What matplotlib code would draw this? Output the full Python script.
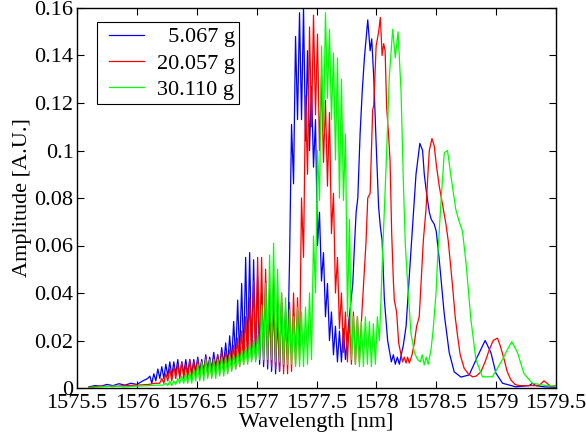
import numpy as np
import matplotlib
matplotlib.use("Agg")
import matplotlib.pyplot as plt
from matplotlib.ticker import FuncFormatter
from matplotlib.legend_handler import HandlerLine2D

plt.rcParams['font.family'] = ['Liberation Serif', 'DejaVu Serif']

labels = ["  5.067 g", "20.057 g", "30.110 g"]
colors = ["#0000ff", "#ff0000", "#00ff00"]
STEP = 1.0 / 60.0  # fringe-sampling grid (nm)

# ---------------- blue : 5.067 g ----------------
blue_head_x = [1575.60, 1575.65, 1575.70, 1575.75, 1575.80, 1575.85, 1575.90, 1575.95, 1576.00, 1576.05, 1576.09]
blue_head_y = [0.0005, 0.001, 0.0008, 0.0015, 0.001, 0.0018, 0.0012, 0.002, 0.0015, 0.003, 0.004]
blue_osc_start = 1576.1083
blue_osc = [
    0.005, 0.002, 0.006, 0.003, 0.008, 0.004, 0.009, 0.004, 0.010, 0.005,
    0.011, 0.005, 0.011, 0.006, 0.012, 0.005, 0.011, 0.006, 0.012, 0.006,
    0.012, 0.006, 0.012, 0.007, 0.013, 0.007, 0.012, 0.007, 0.014, 0.008,
    0.013, 0.008, 0.015, 0.009, 0.014, 0.009, 0.017, 0.010, 0.019, 0.010,
    0.022, 0.011, 0.028, 0.012, 0.037, 0.013, 0.044, 0.013, 0.055, 0.014,
    0.057, 0.013, 0.054, 0.012, 0.047, 0.010, 0.040, 0.009, 0.045, 0.008,
    0.035, 0.007, 0.038, 0.006, 0.030, 0.007, 0.036, 0.009, 0.033, 0.012,
    0.054, 0.111, 0.086, 0.148, 0.113, 0.158, 0.113, 0.160, 0.104, 0.142,
    0.100, 0.127, 0.093, 0.113, 0.060, 0.074, 0.045, 0.057, 0.030, 0.044,
    0.020, 0.032, 0.014, 0.026, 0.011, 0.024, 0.011, 0.025, 0.012,
]
blue_tail_x = [1577.770, 1577.803, 1577.817, 1577.831, 1577.845, 1577.864, 1577.882, 1577.900, 1577.928,
               1577.948, 1577.961, 1577.978, 1577.998, 1578.019, 1578.033, 1578.048, 1578.067, 1578.094,
               1578.108, 1578.125, 1578.142, 1578.158, 1578.175, 1578.192, 1578.208, 1578.225, 1578.248,
               1578.289, 1578.331, 1578.363, 1578.386, 1578.400, 1578.419, 1578.442, 1578.458, 1578.483,
               1578.500, 1578.525, 1578.567, 1578.608, 1578.650, 1578.706, 1578.775, 1578.842, 1578.908,
               1578.956, 1578.998, 1579.053, 1579.164, 1579.275, 1579.303, 1579.333, 1579.400, 1579.492]
blue_tail_y = [0.028, 0.044, 0.060, 0.074, 0.080, 0.107, 0.125, 0.139, 0.155,
               0.142, 0.147, 0.131, 0.103, 0.076, 0.068, 0.062, 0.037, 0.020,
               0.016, 0.011, 0.014, 0.010, 0.013, 0.010, 0.014, 0.018, 0.026,
               0.058, 0.090, 0.103, 0.100, 0.090, 0.082, 0.074, 0.071, 0.069,
               0.066, 0.054, 0.031, 0.015, 0.0068, 0.0046, 0.0055, 0.013, 0.020,
               0.015, 0.0063, 0.002, 0.0005, 0.001, 0.002, 0.001, 0.0005, 0.0003]

# ---------------- red : 20.057 g ----------------
red_head_x = [1575.60, 1575.70, 1575.80, 1575.90, 1576.00, 1576.10, 1576.15, 1576.19]
red_head_y = [0.0003, 0.0008, 0.0006, 0.001, 0.0012, 0.0015, 0.002, 0.002]
red_osc_start = 1576.2083
red_osc = [
    0.004, 0.002, 0.006, 0.003, 0.008, 0.003, 0.009, 0.004, 0.010, 0.004,
    0.011, 0.004, 0.010, 0.004, 0.012, 0.004, 0.011, 0.005, 0.012, 0.004,
    0.011, 0.005, 0.013, 0.005, 0.012, 0.005, 0.013, 0.006, 0.014, 0.006,
    0.015, 0.007, 0.015, 0.007, 0.016, 0.008, 0.018, 0.008, 0.021, 0.009,
    0.024, 0.010, 0.030, 0.011, 0.038, 0.012, 0.045, 0.012, 0.055, 0.012,
    0.055, 0.011, 0.050, 0.010, 0.042, 0.009, 0.046, 0.008, 0.038, 0.007,
    0.040, 0.006, 0.032, 0.006, 0.036, 0.007, 0.040, 0.010, 0.038, 0.012,
    0.080, 0.055, 0.123, 0.090, 0.152, 0.110, 0.157, 0.115, 0.149, 0.100,
    0.131, 0.095, 0.121, 0.085, 0.116, 0.065, 0.082, 0.040, 0.055, 0.025,
    0.040, 0.015, 0.032, 0.011, 0.030, 0.010, 0.032, 0.010, 0.030, 0.011,
    0.028,
]
red_tail_x = [1577.900, 1577.914, 1577.928, 1577.948, 1577.969, 1577.978, 1577.998, 1578.019, 1578.033,
              1578.048, 1578.061, 1578.073, 1578.086, 1578.100, 1578.114, 1578.128, 1578.142, 1578.150,
              1578.169, 1578.186, 1578.206, 1578.219, 1578.233, 1578.248, 1578.261, 1578.275, 1578.298,
              1578.317, 1578.336, 1578.358, 1578.373, 1578.392, 1578.414, 1578.428, 1578.442, 1578.464,
              1578.483, 1578.503, 1578.525, 1578.550, 1578.581, 1578.600, 1578.636, 1578.658, 1578.678,
              1578.700, 1578.733, 1578.767, 1578.803, 1578.833, 1578.873, 1578.908, 1578.942, 1578.975,
              1579.011, 1579.033, 1579.067, 1579.092, 1579.123, 1579.158, 1579.192, 1579.275, 1579.358,
              1579.400, 1579.425, 1579.458, 1579.492]
red_tail_y = [0.050, 0.062, 0.080, 0.082, 0.117, 0.119, 0.144, 0.150, 0.156,
              0.140, 0.145, 0.142, 0.118, 0.108, 0.096, 0.065, 0.045, 0.037,
              0.032, 0.019, 0.014, 0.011, 0.013, 0.0105, 0.013, 0.0105, 0.014,
              0.019, 0.026, 0.030, 0.044, 0.062, 0.075, 0.088, 0.100, 0.105,
              0.102, 0.093, 0.085, 0.078, 0.069, 0.062, 0.043, 0.030, 0.022,
              0.014, 0.0083, 0.006, 0.0047, 0.005, 0.0068, 0.011, 0.016, 0.020,
              0.021, 0.018, 0.012, 0.007, 0.0034, 0.0015, 0.001, 0.001, 0.001,
              0.003, 0.002, 0.0005, 0.001]

# ---------------- green : 30.110 g ----------------
green_head_x = [1575.60, 1575.70, 1575.80, 1575.90, 1576.00, 1576.10, 1576.17, 1576.22]
green_head_y = [0.0002, 0.0005, 0.0008, 0.0005, 0.0008, 0.001, 0.0012, 0.0012]
green_osc_start = 1576.2417
green_osc = [
    0.002, 0.001, 0.003, 0.001, 0.003, 0.0015, 0.004, 0.002, 0.005, 0.002,
    0.006, 0.002, 0.007, 0.002, 0.008, 0.003, 0.010, 0.003, 0.011, 0.003,
    0.012, 0.004, 0.012, 0.004, 0.012, 0.004, 0.012, 0.005, 0.013, 0.005,
    0.013, 0.006, 0.014, 0.007, 0.014, 0.008, 0.015, 0.009, 0.016, 0.010,
    0.017, 0.010, 0.019, 0.011, 0.020, 0.011, 0.022, 0.012, 0.035, 0.012,
    0.044, 0.012, 0.056, 0.012, 0.061, 0.011, 0.050, 0.011, 0.040, 0.010,
    0.038, 0.010, 0.033, 0.010, 0.030, 0.009, 0.034, 0.009, 0.032, 0.009,
    0.034, 0.010, 0.040, 0.012, 0.064, 0.040, 0.100, 0.079, 0.144, 0.107,
    0.158, 0.122, 0.151, 0.113, 0.141, 0.096, 0.139, 0.080, 0.130, 0.079,
    0.107, 0.030, 0.071, 0.012, 0.030, 0.010, 0.030, 0.009, 0.028, 0.009,
    0.030, 0.010, 0.028, 0.009, 0.027, 0.010, 0.030,
]
green_tail_x = [1578.025, 1578.039, 1578.053, 1578.081, 1578.108, 1578.136, 1578.158, 1578.181, 1578.206,
                1578.228, 1578.242, 1578.261, 1578.289, 1578.317, 1578.344, 1578.367, 1578.383, 1578.400,
                1578.417, 1578.433, 1578.456, 1578.475, 1578.498, 1578.511, 1578.539, 1578.567, 1578.594,
                1578.623, 1578.664, 1578.692, 1578.719, 1578.748, 1578.789, 1578.831, 1578.886, 1578.969,
                1579.053, 1579.092, 1579.131, 1579.178, 1579.233, 1579.303, 1579.414, 1579.492]
green_tail_y = [0.020, 0.038, 0.058, 0.093, 0.131, 0.151, 0.139, 0.150, 0.125,
                0.082, 0.060, 0.044, 0.023, 0.015, 0.012, 0.011, 0.014, 0.0097,
                0.013, 0.010, 0.016, 0.025, 0.040, 0.054, 0.078, 0.099, 0.100,
                0.089, 0.075, 0.070, 0.066, 0.053, 0.029, 0.012, 0.0047, 0.0047,
                0.012, 0.016, 0.0195, 0.015, 0.006, 0.002, 0.001, 0.0008]

x_ticks = [1575.5, 1576, 1576.5, 1577, 1577.5, 1578, 1578.5, 1579, 1579.5]
y_ticks = [0, 0.02, 0.04, 0.06, 0.08, 0.1, 0.12, 0.14, 0.16]


def build(head_x, head_y, osc_start, osc, tail_x, tail_y):
    osc_x = osc_start + STEP * np.arange(len(osc))
    x = np.concatenate([head_x, osc_x, tail_x])
    y = np.concatenate([head_y, osc, tail_y])
    return x, y


class InsetLine(HandlerLine2D):
    """Legend line that starts a little inside its handle box (MATLAB look)."""
    def create_artists(self, legend, orig_handle, xdescent, ydescent, width,
                       height, fontsize, trans):
        s = 0.33 * fontsize
        return super().create_artists(legend, orig_handle, xdescent - s, ydescent,
                                      width - s, height, fontsize, trans)


series = [
    build(blue_head_x, blue_head_y, blue_osc_start, blue_osc, blue_tail_x, blue_tail_y),
    build(red_head_x, red_head_y, red_osc_start, red_osc, red_tail_x, red_tail_y),
    build(green_head_x, green_head_y, green_osc_start, green_osc, green_tail_x, green_tail_y),
]

FS = 16
fig = plt.figure(figsize=(5.86, 4.32), dpi=100)
ax = fig.add_axes([77 / 586, 44 / 432, 479 / 586, 380 / 432])

lines = []
for (x, y), c, lab in zip(series, colors, labels):
    ln, = ax.plot(x, y, color=c, lw=0.9, label=lab)
    lines.append(ln)

ax.set_xlim(1575.5, 1579.5)
ax.set_ylim(0, 0.16)
ax.set_xticks(x_ticks)
ax.set_yticks(y_ticks)
fmt = FuncFormatter(lambda v, p: "%g" % v)
ax.xaxis.set_major_formatter(fmt)
ax.yaxis.set_major_formatter(fmt)
ax.tick_params(direction='in', length=5, width=0.8, top=True, right=True,
               labelsize=FS)
ax.tick_params(axis='x', pad=4.5)
ax.tick_params(axis='y', pad=2.5)
for s in ax.spines.values():
    s.set_linewidth(1.0)

ax.set_xlabel("Wavelength [nm]", fontsize=FS, labelpad=0)
ax.set_ylabel("Amplitude [A.U.]", fontsize=FS, labelpad=2)

leg = ax.legend(handles=lines, loc='upper left', bbox_to_anchor=(0.0424, 0.962),
                borderaxespad=0, fontsize=FS, fancybox=False, framealpha=1,
                edgecolor='black', handlelength=1.9, handletextpad=0.57,
                labelspacing=0.25, borderpad=0.2,
                handler_map={matplotlib.lines.Line2D: InsetLine()})
leg.get_frame().set_linewidth(0.8)

fig.savefig("out.png", dpi=100)
